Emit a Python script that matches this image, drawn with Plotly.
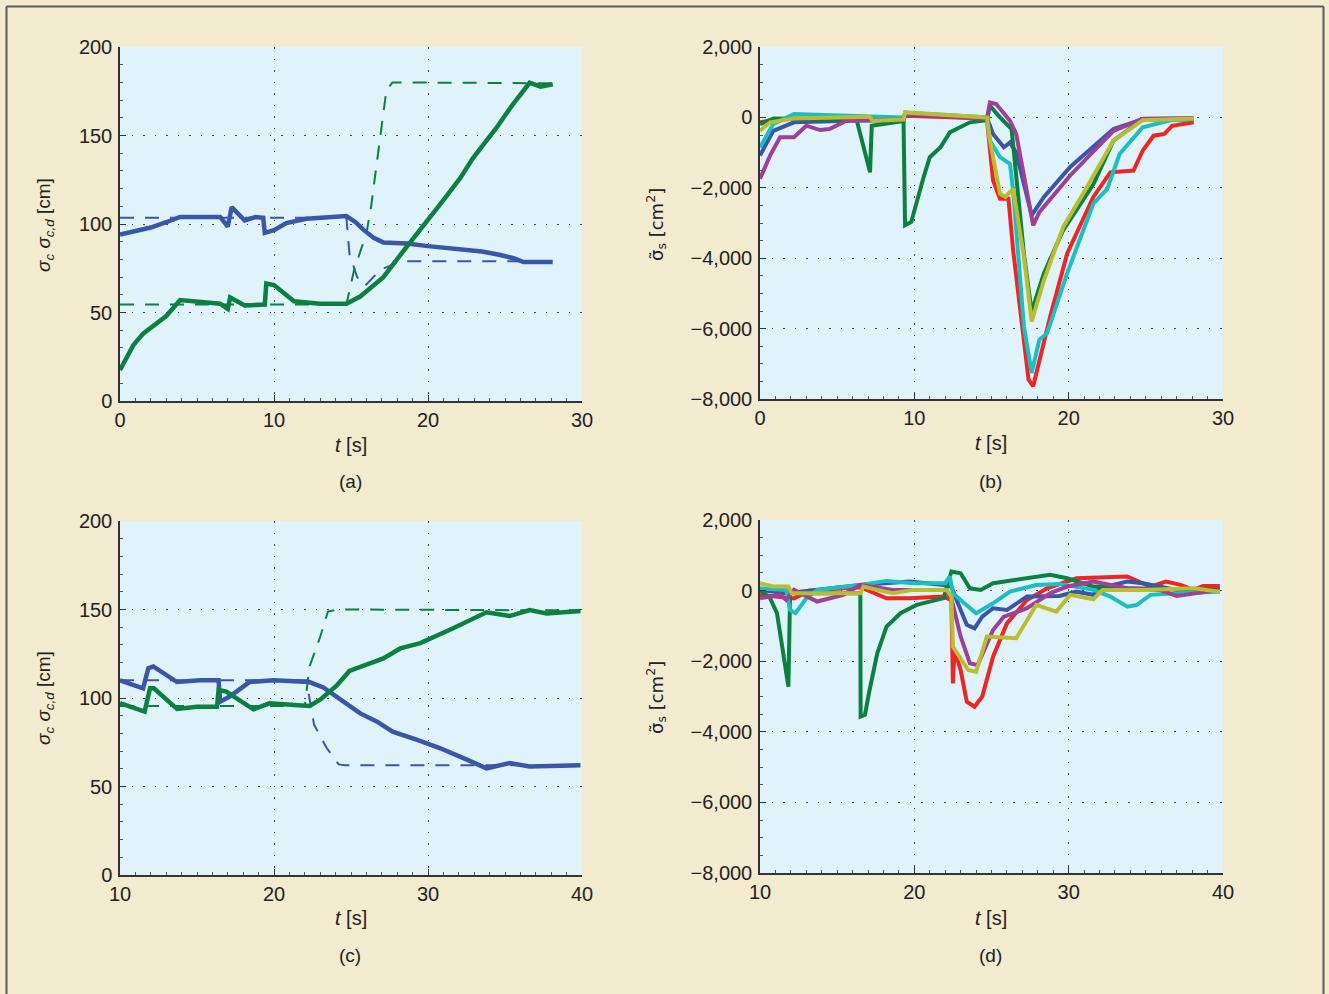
import plotly.graph_objects as go

# ---------------- data ----------------
# panel (a)
a_blue_t = [0, 0.9, 2, 3, 3.9, 6.5, 7.0, 7.25, 8.1, 8.8, 9.3, 9.4, 10.0, 10.8, 12.1, 14.7, 15.3, 15.8, 16.5, 17.1, 18.6, 20, 22.1, 23.5, 24.7, 25.6, 26.2, 28.1]
a_blue_v = [94, 96, 98, 101, 104, 104, 98.5, 109.5, 102, 104, 103.5, 95, 96.5, 100.5, 103, 104.5, 101, 96.8, 92, 89.6, 89, 87.5, 85.7, 84.5, 82.5, 80.5, 78.5, 78.5]
a_blued_t = [0, 14.7, 14.9, 15.4, 15.9, 16.9, 18.2, 28.1]
a_blued_v = [103.6, 103.6, 83, 70, 65, 74, 79, 79]
a_green_t = [0, 0.87, 1.5, 2.2, 3.0, 3.5, 3.9, 6.5, 7.0, 7.15, 8.1, 9.4, 9.5, 10.0, 11.3, 13, 14.7, 15.6, 16.4, 17.1, 18.6, 19.9, 21.0, 22.1, 22.9, 24.5, 25.5, 26.6, 27.3, 28.1]
a_green_v = [17.5, 31.6, 38, 43, 48, 53, 57, 55, 52, 58.5, 54, 54.5, 66.4, 65.5, 56.3, 55, 55, 59, 64.5, 70, 87, 101, 113.5, 126, 137, 155, 167.5, 179.8, 177.6, 179]
a_greend_t = [0, 14.7, 15.2, 16.0, 16.3, 16.8, 17.3, 17.7, 28.1]
a_greend_v = [54.5, 54.5, 74, 94.6, 109.6, 143.7, 175.7, 180, 179.5]

# panel (b)
b_red_t = [0, 1, 2, 7.1, 9.3, 9.4, 14.7, 15.1, 15.55, 16.1, 16.4, 17.1, 17.4, 17.7, 18.1, 18.8, 19.9, 21.6, 22.7, 24.2, 24.8, 25.5, 26.2, 26.7, 28.1]
b_red_v = [-140, -60, -30, -50, -30, 50, -30, -1790, -2310, -2310, -3770, -6320, -7450, -7640, -6880, -5660, -3870, -2260, -1560, -1510, -940, -520, -470, -240, -140]
b_blue_t = [0, 0.86, 2.2, 7.1, 9.3, 9.4, 14.7, 15.1, 15.8, 16.2, 16.6, 17.1, 17.6, 18.4, 20.1, 22.9, 24.8, 28.1]
b_blue_v = [-1085, -380, -140, -80, -100, 80, 0, -470, -850, -710, -1000, -1900, -2780, -2260, -1410, -330, -50, -50]
b_green_t = [0, 0.9, 6.26, 7.13, 7.24, 9.3, 9.4, 9.8, 10.6, 11.0, 11.7, 12.3, 13.6, 14.7, 14.9, 15.55, 16.3, 17.1, 17.6, 18.4, 19.65, 21.6, 22.9, 24.8, 28.1]
b_green_v = [-190, -30, -70, -1560, -235, -100, -3065, -2970, -1700, -1130, -850, -425, -140, -80, 330, 0, -330, -3870, -5520, -4430, -3200, -1900, -660, -50, -50]
b_cyan_t = [0, 0.86, 2.2, 9.3, 9.4, 14.7, 14.9, 15.55, 16.2, 16.4, 17.1, 17.6, 18.1, 18.6, 19.9, 21.6, 22.5, 23.3, 24.8, 26.6, 28.1]
b_cyan_v = [-850, -190, 95, 0, 140, 0, -660, -1130, -1320, -2075, -5940, -7260, -6320, -6130, -4430, -2450, -2030, -1040, -280, -80, -50]
b_purple_t = [0, 0.65, 1.3, 2.2, 3.0, 3.9, 4.5, 5.6, 9.3, 9.4, 14.7, 14.9, 15.3, 16.2, 16.6, 17.1, 17.7, 18.1, 20.1, 22.9, 24.8, 28.1]
b_purple_v = [-1745, -1085, -565, -565, -235, -360, -330, -95, -60, 100, -40, 425, 380, -95, -470, -1600, -3065, -2690, -1650, -380, -40, -20]
b_yellow_t = [0, 0.65, 2.2, 7.1, 7.3, 9.3, 9.4, 14.7, 14.9, 15.55, 15.9, 16.4, 17.1, 17.6, 18.4, 19.65, 21.0, 22.9, 24.8, 28.1]
b_yellow_v = [-380, -140, -30, 20, -95, -60, 140, 0, -660, -2170, -2260, -2030, -3960, -5800, -4620, -3110, -2120, -660, -80, -30]

# panel (c)
c_blue_t = [10, 11.5, 11.84, 12.16, 13.7, 15.2, 16.4, 16.5, 17.1, 18.4, 19.96, 22.3, 23.2, 24.1, 25.6, 26.7, 27.7, 29.3, 30.8, 32.3, 33.8, 35.3, 36.6, 39.9]
c_blue_v = [110, 105.5, 116.8, 117.8, 109, 110, 110, 97.9, 100.7, 109, 110, 109, 106, 100.7, 91.3, 86.6, 81, 76.3, 71.6, 66, 60.3, 63.2, 61.3, 62]
c_blued_t = [10, 22.1, 22.4, 22.6, 23.4, 24.2, 24.6, 39.9]
c_blued_v = [110, 110, 95, 85, 72, 62.5, 62, 62]
c_green_t = [10, 11.6, 11.95, 12.2, 13.7, 15, 16.3, 16.4, 16.9, 18.66, 19.7, 22.3, 23, 24.1, 24.9, 27.1, 28.2, 29.5, 31.6, 32.5, 33.8, 35.3, 36.6, 37.7, 39.9]
c_green_v = [97.1, 92.3, 105.5, 105.5, 93.8, 95, 95, 104.5, 103.6, 93.6, 97, 95.5, 99, 107.3, 115.3, 122.4, 128, 131, 139.3, 143, 148.4, 146.3, 149.7, 147.8, 149.2]
c_greend_t = [10, 22.0, 22.3, 23.0, 23.5, 24.1, 39.9]
c_greend_v = [95.5, 95.5, 117.6, 134.6, 148.8, 150, 149.5]

# panel (d)
d_red_t = [10, 12.2, 13.2, 16.5, 18.2, 19.7, 21.9, 22.4, 22.5, 22.6, 23.0, 23.4, 23.9, 24.4, 25.1, 26.0, 27.3, 28.6, 30.5, 33.8, 35.3, 36.3, 37.2, 38.1, 38.7, 39.8]
d_red_v = [-120, -220, 0, 95, -220, -220, -170, -270, -2630, -1680, -2250, -3150, -3290, -3000, -1870, -930, -265, 65, 350, 400, 110, 255, 170, 20, 130, 130]
d_blue_t = [10, 11.7, 16.5, 19.7, 21.9, 22.4, 23.0, 23.4, 23.9, 24.4, 25.1, 26.0, 27.3, 29.4, 30.5, 31.6, 32.0, 33.8, 34.8, 37.0, 39.8]
d_blue_v = [20, -75, 160, 255, 160, 110, -550, -970, -1070, -740, -500, -550, -170, -150, -30, -120, 65, 255, 210, 20, 20]
d_green_t = [10, 10.65, 11.1, 11.5, 11.84, 11.95, 16.5, 16.52, 16.8, 17.1, 17.6, 18.2, 19.1, 20.15, 21.9, 22.4, 23.0, 23.6, 24.3, 25.1, 27.3, 28.8, 29.9, 31.6, 33.8, 39.8]
d_green_v = [20, -215, -640, -1680, -2720, -75, -75, -3570, -3520, -2815, -1775, -1020, -640, -405, -215, 540, 490, 65, 20, 210, 350, 445, 350, 115, 65, 20]
d_cyan_t = [10, 11.7, 11.95, 12.3, 13.0, 13.7, 16.5, 18.2, 20.0, 22.0, 22.3, 22.5, 23.0, 24.0, 25.1, 26.2, 27.9, 29.4, 31.6, 32.7, 33.8, 34.4, 35.3, 37.0, 39.8]
d_cyan_v = [65, 20, -550, -640, -220, 20, 160, 275, 210, 210, 400, -75, -265, -640, -360, -30, 160, 190, 20, -170, -455, -410, -120, -75, -30]
d_purple_t = [10, 11.3, 11.7, 12.2, 13.7, 15.4, 16.5, 18.6, 22.0, 22.4, 23.0, 23.6, 24.1, 25.1, 25.8, 27.3, 28.8, 29.9, 31.6, 33.8, 35.9, 37.0, 39.8]
d_purple_v = [-215, -120, -265, 20, -310, -120, 160, 20, 20, -215, -1300, -2060, -2110, -1115, -740, -500, -75, 115, 255, 65, 20, -150, 20]
d_yellow_t = [10, 10.86, 11.84, 12.05, 16.5, 16.7, 17.6, 18.6, 19.9, 22.1, 22.4, 22.5, 23.2, 23.5, 24.0, 24.7, 26.6, 27.9, 29.2, 30.1, 31.6, 32.2, 34.8, 38.1, 39.8]
d_yellow_v = [210, 115, 115, -75, -75, 115, 20, -75, 20, 20, -170, -1590, -2060, -2250, -2300, -1300, -1350, -405, -595, -120, -245, 20, 20, 65, -30]

ticks_sigma = [0, 50, 100, 150, 200]
ticks_err = [-8000, -6000, -4000, -2000, 0, 2000]
ticks_t_ab = [0, 10, 20, 30]
ticks_t_cd = [10, 20, 30, 40]
panel_labels = ["(a)", "(b)", "(c)", "(d)"]

# ---------------- style ----------------
W, H = 1329, 994
BLUE = "#3A56A8"
GREEN = "#0C8040"
RED = "#EE2526"
CYAN = "#1DBEC2"
PURPLE = "#9E3F98"
YELLOW = "#BABD2F"
PAPER = "#F2EBD0"
PLOTBG = "#E0F3FA"
FONT = "Liberation Sans, Arial, sans-serif"

fig = go.Figure()

def add(t, v, color, ax, width=4.5, dash=None):
    line = dict(color=color, width=width)
    if dash:
        line["dash"] = dash
    fig.add_trace(go.Scatter(x=t, y=v, mode="lines", line=line,
                             xaxis="x" + ax, yaxis="y" + ax,
                             showlegend=False, hoverinfo="skip"))

DASH = "14px,11px"
# (a)
add(a_blued_t, a_blued_v, BLUE, "", 2, DASH)
add(a_greend_t, a_greend_v, GREEN, "", 2, DASH)
add(a_blue_t, a_blue_v, BLUE, "")
add(a_green_t, a_green_v, GREEN, "")
# (b)
for t, v, c in [(b_red_t, b_red_v, RED), (b_blue_t, b_blue_v, BLUE), (b_green_t, b_green_v, GREEN),
                (b_cyan_t, b_cyan_v, CYAN), (b_purple_t, b_purple_v, PURPLE), (b_yellow_t, b_yellow_v, YELLOW)]:
    add(t, v, c, "2", 4)
# (c)
add(c_blued_t, c_blued_v, BLUE, "3", 2, DASH)
add(c_greend_t, c_greend_v, GREEN, "3", 2, DASH)
add(c_blue_t, c_blue_v, BLUE, "3")
add(c_green_t, c_green_v, GREEN, "3")
# (d)
for t, v, c in [(d_red_t, d_red_v, RED), (d_blue_t, d_blue_v, BLUE), (d_green_t, d_green_v, GREEN),
                (d_cyan_t, d_cyan_v, CYAN), (d_purple_t, d_purple_v, PURPLE), (d_yellow_t, d_yellow_v, YELLOW)]:
    add(t, v, c, "4", 4)

def px(x):
    return x / W

def py(y):
    return 1 - y / H

common = dict(showline=True, linecolor="#333333", linewidth=1.5, ticks="inside", ticklen=6,
              tickcolor="#333333", tickwidth=1, showgrid=True, gridcolor="#444444", gridwidth=1,
              griddash="1.5px,10px", zeroline=False, mirror=False, automargin=False,
              tickfont=dict(family=FONT, size=20, color="#222222"),
              minor=dict(ticks="inside", ticklen=3, tickcolor="#555555", showgrid=False))

def xax(dom, vals, anchor):
    d = dict(common)
    d.update(domain=dom, range=[vals[0], vals[-1]], tickvals=vals, anchor=anchor, ticklabelstandoff=0)
    d["minor"] = dict(common["minor"], dtick=1)
    return d

def yax(dom, vals, anchor, fmt=None, mdt=10):
    d = dict(common)
    d.update(domain=dom, range=[vals[0], vals[-1]], tickvals=vals, anchor=anchor, ticklabelstandoff=2)
    d["minor"] = dict(common["minor"], dtick=mdt)
    if fmt:
        d["tickformat"] = fmt
    return d

xl = [px(120), px(582)]
xr = [px(760), px(1223)]
fig.update_layout(
    width=W, height=H, autosize=False,
    margin=dict(l=0, r=0, t=0, b=0, pad=0),
    paper_bgcolor=PAPER, plot_bgcolor=PLOTBG,
    font=dict(family=FONT, size=20, color="#222222"),
    xaxis=xax(xl, ticks_t_ab, "y"),
    yaxis=yax([py(401), py(47)], ticks_sigma, "x"),
    xaxis2=xax(xr, ticks_t_ab, "y2"),
    yaxis2=yax([py(399), py(47)], ticks_err, "x2", ",", 500),
    xaxis3=xax(xl, ticks_t_cd, "y3"),
    yaxis3=yax([py(875), py(521)], ticks_sigma, "x3"),
    xaxis4=xax(xr, ticks_t_cd, "y4"),
    yaxis4=yax([py(873), py(520)], ticks_err, "x4", ",", 500),
)

ann = []
def text(x, y, s, angle=0, size=20, family=FONT):
    ann.append(dict(x=px(x), y=py(y), xref="paper", yref="paper", text=s, showarrow=False,
                    textangle=angle, xanchor="center", yanchor="middle",
                    font=dict(family=family, size=size, color="#222222")))

ylab_a = "<i>σ</i><sub><i>c</i></sub> <i>σ</i><sub><i>c,d</i></sub> [cm]"
ylab_b = "σ̃<sub>s</sub> [cm<sup>2</sup>]"
xlab = "<i>t</i> [s]"
text(45, 225, ylab_a, -90, 19)
text(656, 225, ylab_b, -90, 18, "DejaVu Sans")
text(45, 698, ylab_a, -90, 19)
text(656, 698, ylab_b, -90, 18, "DejaVu Sans")
text(351, 445, xlab)
text(991, 443, xlab)
text(351, 918, xlab)
text(991, 918, xlab)
text(350, 482, panel_labels[0], 0, 19)
text(990, 482, panel_labels[1], 0, 19)
text(350, 955, panel_labels[2], 0, 19)
text(990, 955, panel_labels[3], 0, 19)
fig.update_layout(annotations=ann)

border = dict(color="#5a5a5a", width=2)
fig.update_layout(shapes=[
    dict(type="line", xref="paper", yref="paper", x0=px(6.5), x1=px(1323.5), y0=py(6.5), y1=py(6.5), line=border),
    dict(type="line", xref="paper", yref="paper", x0=px(6.5), x1=px(6.5), y0=py(6.5), y1=py(1000), line=border),
    dict(type="line", xref="paper", yref="paper", x0=px(1323.5), x1=px(1323.5), y0=py(6.5), y1=py(1000), line=border),
])

fig.write_html("out.html")
